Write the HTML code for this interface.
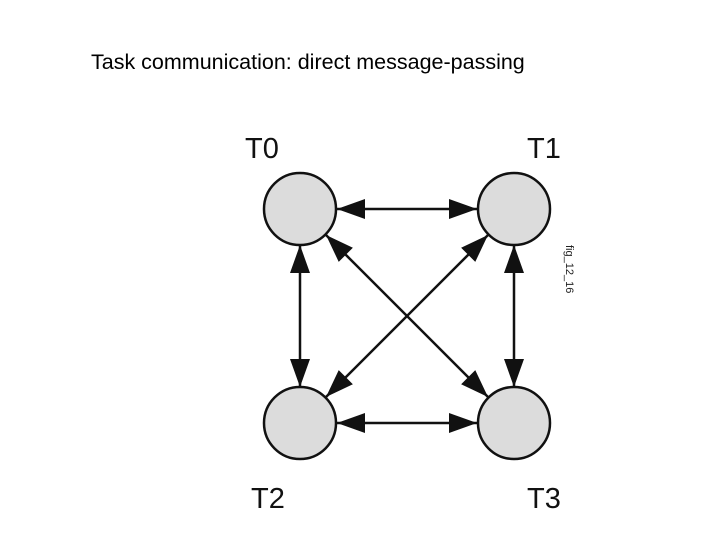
<!DOCTYPE html>
<html><head><meta charset="utf-8"><style>
html,body{margin:0;padding:0;background:#fff;}
svg{display:block;}
</style></head><body>
<svg width="720" height="540" viewBox="0 0 720 540" xmlns="http://www.w3.org/2000/svg">
<defs>
<marker id="a" markerWidth="28" markerHeight="20" refX="28" refY="10" orient="auto-start-reverse" markerUnits="userSpaceOnUse">
<path d="M0,0 L28,10 L0,20 Z" fill="#111"/>
</marker>
</defs>
<text x="91" y="69" font-family="Liberation Sans, sans-serif" font-size="21.5" fill="#000">Task communication:  direct message-passing</text>
<g font-family="Liberation Sans, sans-serif" font-size="29" fill="#111">
<text x="245" y="158">T0</text>
<text x="527" y="158">T1</text>
<text x="251" y="508">T2</text>
<text x="527" y="508">T3</text>
</g>
<text transform="translate(566,245) rotate(90)" font-family="Liberation Sans, sans-serif" font-size="11" fill="#222">fig_12_16</text>
<g stroke="#111" stroke-width="2.5" fill="none">
<line x1="337" y1="209" x2="477" y2="209" marker-start="url(#a)" marker-end="url(#a)"/>
<line x1="337" y1="423" x2="477" y2="423" marker-start="url(#a)" marker-end="url(#a)"/>
<line x1="300" y1="245" x2="300" y2="387" marker-start="url(#a)" marker-end="url(#a)"/>
<line x1="514" y1="245" x2="514" y2="387" marker-start="url(#a)" marker-end="url(#a)"/>
<line x1="326" y1="235" x2="488" y2="397" marker-start="url(#a)" marker-end="url(#a)"/>
<line x1="488" y1="235" x2="326" y2="397" marker-start="url(#a)" marker-end="url(#a)"/>
</g>
<g fill="#dcdcdc" stroke="#111" stroke-width="2.5">
<circle cx="300" cy="209" r="36"/>
<circle cx="514" cy="209" r="36"/>
<circle cx="300" cy="423" r="36"/>
<circle cx="514" cy="423" r="36"/>
</g>
</svg>
</body></html>
